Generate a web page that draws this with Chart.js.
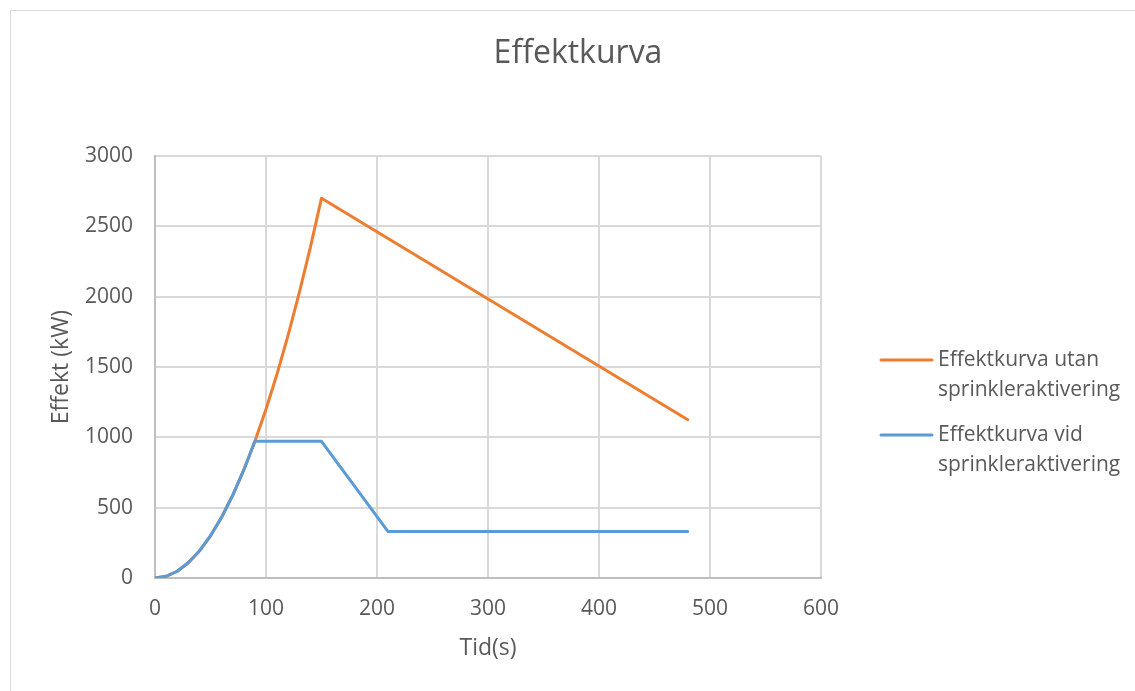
<!DOCTYPE html>
<html>
<head>
<meta charset="utf-8">
<script src="https://cdn.jsdelivr.net/npm/chart.js@4/dist/chart.umd.min.js"></script>
<style>
  html, body { margin: 0; padding: 0; background: #fff; }
  #wrap { position: relative; width: 1135px; height: 691px; }
</style>
</head>
<body>
<div id="wrap"><canvas id="c" width="1135" height="691"></canvas></div>
<script>
// ---- Data ----
const titleText = "Effektkurva";
const xAxisTitle = "Tid(s)";
const yAxisTitle = "Effekt (kW)";

const timeUtan = [0, 10, 20, 30, 40, 50, 60, 70, 80, 90, 100, 110, 120, 130, 140, 150, 480];
const effektUtan = [0, 12, 48, 108, 192, 300, 432, 588, 768, 972, 1200, 1452, 1728, 2028, 2352, 2700, 1125];

const timeVid = [0, 10, 20, 30, 40, 50, 60, 70, 80, 90, 150, 210, 480];
const effektVid = [0, 12, 48, 108, 192, 300, 432, 588, 768, 972, 972, 330, 330];

const labelUtan = ["Effektkurva utan", "sprinkleraktivering"];
const labelVid = ["Effektkurva vid", "sprinkleraktivering"];

const xTicks = [0, 100, 200, 300, 400, 500, 600];
const yTicks = [0, 500, 1000, 1500, 2000, 2500, 3000];

// ---- Build ----
const toPts = (xs, ys) => xs.map((x, i) => ({ x: x, y: ys[i] }));
const FONT = "'Open Sans', 'Liberation Sans', sans-serif";
const TXT = "#595959";

const frameTitleLegend = {
  id: "frameTitleLegend",
  beforeDraw(chart) {
    const ctx = chart.ctx;
    ctx.save();
    ctx.strokeStyle = "#d9d9d9";
    ctx.lineWidth = 1;
    ctx.strokeRect(10.5, 10.5, chart.width + 20, chart.height + 20);
    ctx.restore();
  },
  afterDraw(chart) {
    const ctx = chart.ctx;
    ctx.save();
    // title, centred on the whole chart object
    ctx.font = "32px " + FONT;
    ctx.fillStyle = TXT;
    ctx.textAlign = "center";
    ctx.textBaseline = "middle";
    ctx.fillText(chart.options.plugins.customTitle.text, 578, 54);

    // legend
    ctx.font = "21px " + FONT;
    ctx.textAlign = "left";
    const ys = [360, 435];
    chart.data.datasets.forEach((ds, k) => {
      const y = ys[k];
      ctx.strokeStyle = ds.borderColor;
      ctx.lineWidth = 3;
      ctx.lineCap = "round";
      ctx.beginPath();
      ctx.moveTo(881, y);
      ctx.lineTo(932, y);
      ctx.stroke();
      ds.legendLines.forEach((t, i) => ctx.fillText(t, 938, y + i * 30));
    });
    ctx.restore();
  }
};

new Chart(document.getElementById("c"), {
  type: "line",
  data: {
    datasets: [
      {
        label: labelUtan.join(" "),
        legendLines: labelUtan,
        data: toPts(timeUtan, effektUtan),
        borderColor: "#ED7D31",
        backgroundColor: "#ED7D31",
        borderWidth: 3,
        pointRadius: 0,
        tension: 0,
        order: 2,
        borderCapStyle: "round",
        borderJoinStyle: "round"
      },
      {
        label: labelVid.join(" "),
        legendLines: labelVid,
        data: toPts(timeVid, effektVid),
        borderColor: "#5B9BD5",
        backgroundColor: "#5B9BD5",
        borderWidth: 3,
        pointRadius: 0,
        tension: 0,
        order: 1,
        borderCapStyle: "round",
        borderJoinStyle: "round"
      }
    ]
  },
  options: {
    responsive: false,
    animation: false,
    layout: { padding: { left: 0, right: 314, top: 156, bottom: 0 } },
    plugins: {
      legend: { display: false },
      tooltip: { enabled: false },
      title: { display: false },
      customTitle: { text: titleText }
    },
    scales: {
      x: {
        type: "linear",
        min: 0,
        max: 600,
        afterBuildTicks: s => { s.ticks = xTicks.map(v => ({ value: v })); },
        afterFit: s => { s.height = 113; },
        grid: { color: "#d9d9d9", lineWidth: 2, drawTicks: false },
        border: { color: "#bfbfbf", width: 2 },
        ticks: { color: TXT, font: { family: FONT, size: 21 }, padding: 18, maxRotation: 0,
                 callback: v => String(v) },
        title: { display: true, text: xAxisTitle, color: TXT, font: { family: FONT, size: 23 },
                 padding: { top: 0, bottom: 29 } }
      },
      y: {
        type: "linear",
        min: 0,
        max: 3000,
        afterBuildTicks: s => { s.ticks = yTicks.map(v => ({ value: v })); },
        afterFit: s => { s.width = 155; },
        grid: { color: "#d9d9d9", lineWidth: 2, drawTicks: false },
        border: { color: "#bfbfbf", width: 2 },
        ticks: { color: TXT, font: { family: FONT, size: 21 }, padding: 22,
                 callback: v => String(v) },
        title: { display: true, text: yAxisTitle, color: TXT, font: { family: FONT, size: 23 },
                 padding: { top: 48, bottom: 0 } }
      }
    }
  },
  plugins: [frameTitleLegend]
});
</script>
</body>
</html>
